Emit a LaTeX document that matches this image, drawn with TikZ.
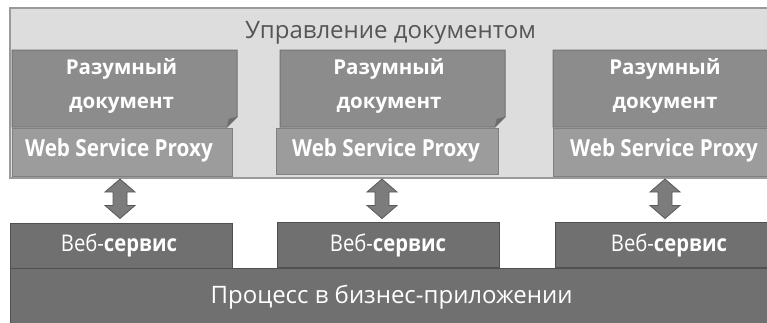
\documentclass[tikz,border=0pt]{standalone}
\usepackage{fontspec}
\setmainfont{Open Sans}
\newfontfamily\narrowsans[FakeStretch=0.88]{Open Sans}

\definecolor{frameline}{HTML}{9A9A9A}
\definecolor{headfill}{HTML}{DDDDDD}
\definecolor{headtext}{HTML}{555555}
\definecolor{docfill}{HTML}{8C8C8C}
\definecolor{docline}{HTML}{727272}
\definecolor{foldfill}{HTML}{6C6C6C}
\definecolor{proxyfill}{HTML}{9C9C9C}
\definecolor{proxyline}{HTML}{808080}
\definecolor{svcfill}{HTML}{707070}
\definecolor{svcline}{HTML}{505050}
\definecolor{arrowfill}{HTML}{7C7C7C}
\definecolor{arrowline}{HTML}{5A5A5A}

\tikzset{
  panel/.style={draw=frameline, fill=headfill, line width=1.2pt},
  docbox/.style={fill=docfill, draw=docline, line width=1pt},
  fold/.style={fill=foldfill, draw=docline, line width=0.6pt},
  proxybox/.style={draw=proxyline, fill=proxyfill, line width=0.8pt},
  svcbox/.style={draw=svcline, fill=svcfill, line width=1pt},
  txt/.style={inner sep=0pt, anchor=base},
  doctext/.style={txt, text=white, font=\fontsize{20.5}{33.5}\selectfont\bfseries, align=center},
  proxytext/.style={txt, text=white, font=\narrowsans\fontsize{23.5}{26}\selectfont\bfseries},
  svctext/.style={txt, text=white, font=\narrowsans\fontsize{23}{26}\selectfont},
  headtxt/.style={txt, text=headtext, font=\fontsize{24}{28}\selectfont},
  proctext/.style={txt, text=white, font=\fontsize{24}{28}\selectfont},
  updown/.style={fill=arrowfill, draw=arrowline, line width=0.8pt, line join=miter},
}

\begin{document}
\begin{tikzpicture}[x=1pt, y=-1pt]
\useasboundingbox (0,0) rectangle (767,322);
\clip (0,0) rectangle (767,322);

% outer management panel
\draw[panel] (10,8) rectangle (772,178);
\node[headtxt] (head) at (390.5,38.5) {Управление документом};

% smart documents with folded corner
\foreach \i/\xl/\xr in {1/12/237, 2/280/505, 3/553/780}{
  \draw[docbox] (\xl,50) -- (\xr,50) -- (\xr,117) -- (\xr-10,127) -- (\xl,127) -- cycle;
  \draw[fold] (\xr,117) -- (\xr-10,127) -- (\xr-8,119) -- cycle;
}
% the base anchor of a two-line node sits on its last line
\node[doctext] (d1) at (121.5,108) {Разумный\\документ};
\node[doctext] (d2) at (389,108) {Разумный\\документ};
\node[doctext] (d3) at (665,108) {Разумный\\документ};

% proxies
\draw[proxybox] (12,128) rectangle (232,176);
\draw[proxybox] (276,128) rectangle (498,174);
\draw[proxybox] (553,128) rectangle (780,176);
\node[proxytext] (p1) at (119,156.5) {Web Service Proxy};
\node[proxytext] (p2) at (386,156.5) {Web Service Proxy};
\node[proxytext] (p3) at (664,156.5) {Web Service Proxy};

% business process
\draw[svcbox] (10,268) rectangle (780,330);
\node[proctext] (proc) at (391.5,303) {Процесс в бизнес-приложении};

% web services
\draw[svcbox] (10,223) rectangle (232,268);
\draw[svcbox] (277,222) rectangle (499,267);
\draw[svcbox] (555,222) rectangle (780,267);
\node[svctext] (w1) at (119,251) {Веб-\textbf{сервис}};
\node[svctext] (w2) at (388,251) {Веб-\textbf{сервис}};
\node[svctext] (w3) at (669,251) {Веб-\textbf{сервис}};

% two-way block arrows between proxies and services
\foreach \c/\xc in {a1/120, a2/382, a3/665}{
  \coordinate (\c) at (\xc,179);
  \draw[updown] (\c) -- ++(15,13) -- ++(-8,0) -- ++(0,13.5)
    -- ++(8,0) -- ++(-15,13) -- ++(-15,-13) -- ++(8,0) -- ++(0,-13.5)
    -- ++(-8,0) -- cycle;
}
\end{tikzpicture}
\end{document}
